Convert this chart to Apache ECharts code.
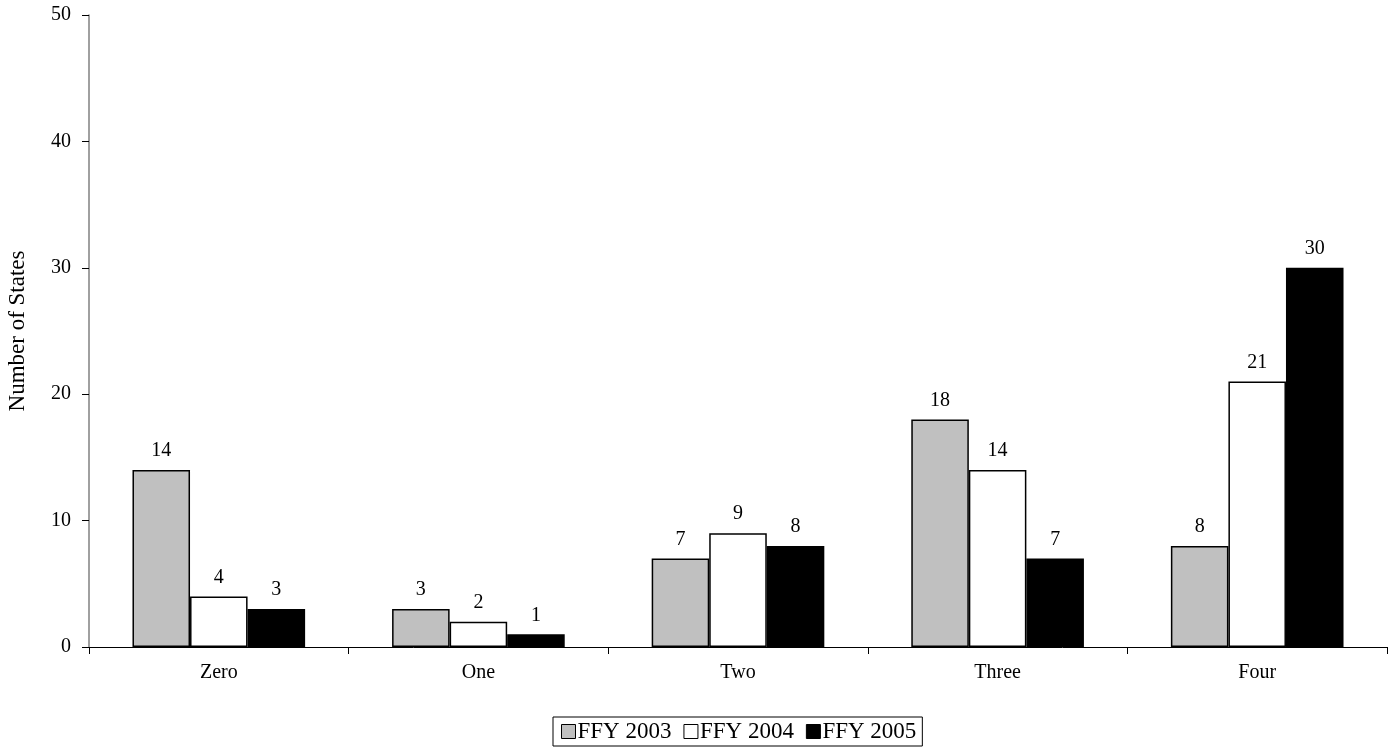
<!DOCTYPE html>
<html><head><meta charset="utf-8">
<script src="https://cdn.jsdelivr.net/npm/echarts@6/dist/echarts.min.js"></script>
<style>html,body{margin:0;padding:0;background:#fff}#c{width:1400px;height:749px}</style>
</head><body><div id="c"></div>
<script>
const categories = ["Zero", "One", "Two", "Three", "Four"];
const seriesNames = ["FFY 2003", "FFY 2004", "FFY 2005"];
const ffy2003 = [14, 3, 7, 18, 8];
const ffy2004 = [4, 2, 9, 14, 21];
const ffy2005 = [3, 1, 8, 7, 30];
const colors = ["#c0c0c0", "#ffffff", "#000000"];
const font = "Liberation Serif, Times New Roman, serif";
const FS = 20;
const chart = echarts.init(document.getElementById('c'));
const values = [ffy2003, ffy2004, ffy2005];
chart.setOption({
  animation: false,
  textStyle: {fontFamily: font},
  grid: {left: 89, right: 13, top: 15, bottom: 102, containLabel: false, outerBoundsMode: 'none'},
  legend: {
    bottom: 3, left: 553, data: seriesNames,
    itemWidth: 14, itemHeight: 14, itemGap: 12,
    icon: 'rect',
    borderColor: '#000', borderWidth: 1, padding: [3, 6, 3, 8],
    textStyle: {fontFamily: font, fontSize: 23, color: '#000', padding: [0, 0, 0, -3]},
    itemStyle: {borderColor: '#000', borderWidth: 1}
  },
  xAxis: {
    type: 'category', data: categories,
    axisLine: {lineStyle: {color: '#000', width: 1}},
    axisTick: {show: true, length: 7, lineStyle: {color: '#000'}},
    axisLabel: {fontFamily: font, fontSize: FS, color: '#000', margin: 16}
  },
  yAxis: {
    type: 'value', min: 0, max: 50, interval: 10,
    name: 'Number of States', nameLocation: 'middle', nameGap: 60, nameRotate: 90,
    nameTextStyle: {fontFamily: font, fontSize: 23, color: '#000'},
    axisLine: {show: true, lineStyle: {color: '#808080', width: 1.5}},
    axisTick: {show: true, length: 7, lineStyle: {color: '#000'}},
    axisLabel: {fontFamily: font, fontSize: FS, color: '#000', margin: 18},
    splitLine: {show: false}
  },
  series: seriesNames.map((n, i) => ({
    name: n, type: 'bar', data: values[i],
    barGap: '0%', barCategoryGap: '33.5%',
    itemStyle: {color: colors[i], borderColor: '#000', borderWidth: 1.5},
    label: {show: true, position: 'top', distance: 9, fontFamily: font, fontSize: FS, color: '#000'}
  }))
});
</script></body></html>
